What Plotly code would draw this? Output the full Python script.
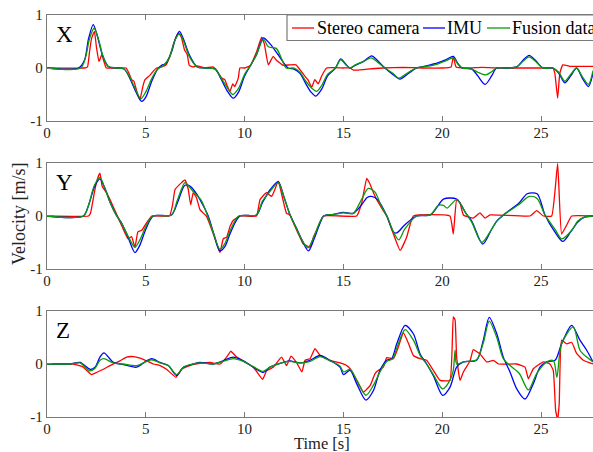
import plotly.graph_objects as go

# ---------------- data ----------------
SERIES_NAMES = ["Stereo camera", "IMU", "Fusion data"]
PANEL_LABELS = ["X", "Y", "Z"]
X_TICKS = [0, 5, 10, 15, 20, 25]
Y_TICKS = [-1, 0, 1]
Y_TICK_TEXT = ["-1", "0", "1"]

# X panel
X_STEREO_T = [0, 1.9, 2.05, 2.15, 2.25, 2.4, 2.5, 2.63, 2.77, 2.9, 3.0, 3.5, 4.0, 4.15, 4.28, 4.4, 4.55, 4.7, 4.85, 4.96, 5.2, 5.4, 5.55, 5.8, 6.0, 6.2, 6.4, 6.55, 6.66, 6.8, 6.95, 7.1, 7.2, 7.4, 7.6, 8.0, 8.4, 8.6, 8.84, 9.0, 9.1, 9.26, 9.4, 9.5, 9.68, 9.76, 10.0, 10.3, 10.6, 10.86, 11.0, 11.2, 11.45, 11.6, 11.95, 12.3, 12.6, 13.0, 13.2, 13.4, 13.55, 13.73, 13.9, 14.15, 15.0, 15.33, 15.5, 16.0, 16.2, 17.0, 18.0, 19.0, 20.0, 20.45, 20.56, 20.7, 21.2, 22.0, 23.0, 24.0, 25.0, 25.6, 25.7, 25.84, 25.95, 26.1, 26.5, 27.0, 27.63]
X_STEREO_V = [0, 0, 0.02, 0.3, 0.55, 0.69, 0.4, 0.12, 0.25, 0.1, 0.0, 0.0, 0.0, -0.1, -0.22, -0.25, -0.45, -0.6, -0.35, -0.22, -0.14, -0.05, 0.0, 0.02, 0.05, 0.2, 0.45, 0.6, 0.66, 0.58, 0.35, 0.25, 0.05, 0.02, 0.04, 0.0, 0.02, -0.05, -0.19, -0.22, -0.32, -0.44, -0.3, -0.35, -0.19, 0.0, 0.0, 0.05, 0.3, 0.58, 0.45, 0.06, 0.22, 0.15, 0.05, 0.06, 0.06, -0.13, -0.22, -0.36, -0.22, -0.3, -0.15, 0.0, 0.0, 0.0, -0.04, -0.03, -0.02, 0.0, 0.01, 0.0, 0.0, 0.02, 0.22, 0.02, 0.0, 0.01, 0.0, 0.0, 0.0, 0.0, -0.1, -0.57, -0.1, 0.06, 0.03, 0.03, 0.03]
X_IMU_T = [0, 1.6, 1.9, 2.1, 2.34, 2.55, 2.8, 3.1, 3.5, 3.9, 4.2, 4.5, 4.79, 5.0, 5.3, 5.6, 5.8, 6.0, 6.3, 6.5, 6.7, 6.9, 7.2, 7.6, 8.0, 8.5, 8.8, 9.1, 9.43, 9.7, 10.0, 10.3, 10.6, 10.95, 11.3, 11.7, 12.2, 12.5, 12.8, 13.1, 13.35, 13.6, 13.9, 14.2, 14.6, 14.86, 15.1, 15.33, 15.6, 16.0, 16.43, 16.7, 17.1, 17.5, 17.86, 18.3, 18.7, 19.2, 19.8, 20.2, 20.56, 20.8, 21.0, 21.5, 21.8, 22.17, 22.5, 22.75, 23.3, 23.77, 24.1, 24.4, 24.7, 25.1, 25.6, 25.9, 26.2, 26.5, 26.8, 27.1, 27.4, 27.63]
X_IMU_V = [0, 0, 0.15, 0.55, 0.82, 0.6, 0.25, 0.03, 0, -0.02, -0.2, -0.45, -0.63, -0.55, -0.25, -0.02, 0.05, 0.08, 0.3, 0.55, 0.69, 0.55, 0.25, 0.02, 0, -0.02, -0.2, -0.42, -0.57, -0.45, -0.15, 0.05, 0.25, 0.57, 0.45, 0.25, 0.0, -0.02, -0.1, -0.3, -0.45, -0.53, -0.4, -0.15, 0.0, 0.17, 0.08, 0.0, 0.05, 0.12, 0.23, 0.15, 0.0, -0.12, -0.21, -0.1, 0.0, 0.04, 0.1, 0.16, 0.22, 0.08, 0.0, -0.02, -0.15, -0.31, -0.15, 0.0, 0.0, 0.02, 0.15, 0.24, 0.15, 0.0, 0.0, -0.1, -0.28, -0.15, 0.0, -0.2, -0.35, -0.1]
X_FUSION_T = [0, 1.7, 1.95, 2.15, 2.38, 2.6, 2.85, 3.1, 3.5, 3.9, 4.2, 4.5, 4.75, 5.0, 5.3, 5.6, 5.9, 6.2, 6.45, 6.7, 6.9, 7.2, 7.6, 8.0, 8.5, 8.8, 9.1, 9.4, 9.7, 10.0, 10.3, 10.6, 10.95, 11.2, 11.6, 11.9, 12.1, 12.5, 12.8, 13.1, 13.4, 13.65, 13.9, 14.2, 14.6, 14.86, 15.1, 15.33, 15.6, 16.0, 16.4, 16.7, 17.1, 17.5, 17.8, 18.3, 18.7, 19.2, 19.8, 20.2, 20.56, 20.8, 21.0, 21.5, 21.8, 22.2, 22.5, 22.75, 23.3, 23.77, 24.1, 24.4, 24.7, 25.1, 25.6, 25.9, 26.2, 26.5, 26.8, 27.1, 27.4, 27.63]
X_FUSION_V = [0, 0, 0.2, 0.55, 0.75, 0.55, 0.2, 0.03, 0.0, -0.02, -0.18, -0.42, -0.58, -0.45, -0.2, -0.02, 0.05, 0.2, 0.5, 0.65, 0.52, 0.22, 0.02, 0, -0.02, -0.18, -0.36, -0.5, -0.38, -0.12, 0.05, 0.25, 0.55, 0.4, 0.37, 0.15, 0.0, 0.0, -0.08, -0.25, -0.38, -0.44, -0.33, -0.12, 0.0, 0.16, 0.07, 0.0, 0.06, 0.12, 0.19, 0.12, 0.0, -0.1, -0.19, -0.08, 0.0, 0.03, 0.08, 0.14, 0.19, 0.07, 0.0, -0.02, -0.08, -0.13, -0.07, 0.0, 0.0, 0.02, 0.13, 0.21, 0.13, 0.0, 0.0, -0.08, -0.25, -0.12, 0.0, -0.17, -0.31, -0.05]

# Y panel
Y_STEREO_T = [0, 2.1, 2.2, 2.4, 2.55, 2.68, 2.8, 3.0, 3.2, 3.5, 3.8, 4.1, 4.28, 4.45, 4.6, 4.8, 5.0, 5.3, 6.2, 6.35, 6.48, 6.81, 6.98, 7.15, 7.27, 7.4, 7.57, 7.74, 8.08, 8.42, 8.75, 8.92, 9.09, 9.26, 9.43, 9.76, 10.6, 10.78, 11.11, 11.37, 11.53, 11.7, 12.12, 12.3, 12.55, 12.8, 12.97, 13.14, 13.31, 13.48, 13.65, 13.99, 15.67, 15.93, 16.18, 16.35, 16.52, 16.77, 17.19, 17.53, 17.87, 18.2, 18.54, 20.39, 20.56, 20.73, 20.9, 21.07, 21.57, 21.91, 22.17, 22.42, 24.44, 24.78, 25.12, 25.54, 25.84, 26.04, 26.3, 26.55, 27.63]
Y_STEREO_V = [0, 0, 0.05, 0.45, 0.7, 0.81, 0.55, 0.45, 0.3, 0.05, -0.2, -0.43, -0.39, -0.59, -0.3, -0.27, -0.15, 0.0, 0.0, 0.2, 0.5, 0.63, 0.68, 0.5, 0.21, 0.44, 0.34, 0.12, -0.01, -0.34, -0.69, -0.43, -0.4, -0.2, -0.08, 0.0, 0.0, 0.31, 0.44, 0.37, 0.5, 0.66, 0.05, 0.02, -0.2, -0.4, -0.53, -0.56, -0.59, -0.4, -0.27, 0.0, 0.0, 0.25, 0.71, 0.6, 0.44, 0.25, 0.0, -0.34, -0.65, -0.4, 0.0, 0.0, -0.34, 0.31, 0.25, 0.02, -0.04, 0.06, -0.04, 0.02, 0.0, 0.1, 0.0, 0.0, 0.99, -0.34, -0.17, 0.0, 0.0]
Y_IMU_T = [0, 1.84, 2.1, 2.4, 2.68, 2.9, 3.2, 3.5, 3.8, 4.1, 4.45, 4.7, 5.0, 5.38, 6.3, 6.6, 6.98, 7.25, 7.6, 7.9, 8.16, 8.45, 8.75, 9.0, 9.3, 9.76, 10.6, 10.9, 11.3, 11.7, 12.0, 12.3, 12.64, 12.9, 13.23, 13.5, 13.8, 14.0, 14.5, 15.0, 15.5, 15.9, 16.2, 16.43, 16.75, 17.2, 17.53, 17.7, 18.1, 18.7, 19.4, 19.8, 20.06, 20.73, 21.2, 21.5, 22.05, 22.5, 22.75, 23.1, 23.9, 24.3, 24.8, 25.2, 25.7, 26.1, 26.5, 26.85, 27.2, 27.63]
Y_IMU_V = [0, 0, 0.2, 0.55, 0.7, 0.55, 0.25, 0.02, -0.15, -0.4, -0.69, -0.55, -0.25, 0.0, 0.02, 0.25, 0.58, 0.56, 0.4, 0.2, 0.0, -0.35, -0.66, -0.58, -0.3, 0.0, 0.02, 0.25, 0.5, 0.65, 0.35, 0.02, -0.24, -0.45, -0.66, -0.45, -0.15, 0.0, 0.03, 0.07, 0.05, 0.2, 0.35, 0.37, 0.3, 0.0, -0.3, -0.32, -0.17, 0.0, 0.02, 0.2, 0.32, 0.32, 0.05, -0.1, -0.53, -0.25, -0.1, 0.02, 0.25, 0.42, 0.42, 0.02, -0.3, -0.48, -0.3, -0.12, -0.02, 0.0]
Y_FUSION_T = [0, 1.84, 2.1, 2.4, 2.68, 2.9, 3.2, 3.5, 3.8, 4.1, 4.45, 4.7, 5.0, 5.35, 6.3, 6.6, 6.98, 7.2, 7.45, 7.8, 8.1, 8.45, 8.75, 9.0, 9.3, 9.7, 10.6, 10.9, 11.3, 11.7, 12.0, 12.3, 12.64, 12.9, 13.2, 13.5, 13.8, 14.0, 14.5, 15.0, 15.5, 15.9, 16.26, 16.6, 16.9, 17.2, 17.53, 17.8, 18.1, 18.7, 19.4, 19.8, 20.06, 20.25, 20.73, 21.2, 21.5, 22.0, 22.5, 22.75, 23.1, 23.9, 24.4, 24.8, 25.2, 25.7, 26.05, 26.6, 26.85, 27.2, 27.63]
Y_FUSION_V = [0, 0, 0.2, 0.58, 0.73, 0.55, 0.25, 0.02, -0.15, -0.38, -0.59, -0.45, -0.2, 0.0, 0.02, 0.3, 0.63, 0.55, 0.44, 0.3, 0.03, -0.35, -0.63, -0.52, -0.25, 0.0, 0.02, 0.28, 0.47, 0.63, 0.35, 0.02, -0.25, -0.45, -0.6, -0.4, -0.12, 0.0, 0.03, 0.06, 0.05, 0.3, 0.52, 0.45, 0.2, 0.0, -0.3, -0.45, -0.25, 0.0, 0.02, 0.2, 0.2, 0.15, 0.31, 0.05, -0.12, -0.5, -0.25, -0.1, 0.02, 0.22, 0.37, 0.33, 0.02, -0.25, -0.43, -0.25, -0.1, -0.02, 0.0]

# Z panel
Z_STEREO_T = [0, 1.3, 1.8, 2.26, 2.5, 2.85, 3.19, 3.69, 4.03, 4.37, 4.71, 5.04, 5.38, 5.72, 6.05, 6.53, 6.81, 7.23, 7.74, 8.25, 8.76, 9.09, 9.3, 9.6, 9.93, 10.44, 10.91, 11.11, 11.45, 11.87, 12.12, 12.35, 12.64, 12.9, 13.06, 13.31, 13.56, 13.82, 14.32, 14.83, 15.17, 15.34, 15.67, 16.01, 16.35, 16.6, 16.77, 17.02, 17.19, 17.53, 17.78, 18.03, 18.29, 18.54, 18.88, 19.21, 19.55, 19.89, 20.39, 20.56, 20.65, 20.73, 20.9, 21.07, 21.41, 21.57, 21.91, 22.25, 22.59, 22.84, 23.77, 24.19, 24.36, 24.61, 25.12, 25.45, 25.62, 25.74, 25.84, 25.92, 26.04, 26.3, 26.55, 26.8, 27.14, 27.63]
Z_STEREO_V = [0, 0.0, -0.05, -0.2, -0.16, -0.1, -0.03, 0.06, 0.13, 0.14, 0.11, 0.06, 0.0, -0.03, -0.1, -0.25, -0.1, -0.03, 0.01, 0.03, 0.0, 0.13, 0.24, 0.13, 0.06, -0.06, -0.29, -0.13, -0.06, 0.13, -0.03, 0.15, 0.02, -0.15, 0.07, 0.1, 0.29, 0.16, 0.07, 0.02, -0.03, -0.09, -0.31, -0.53, -0.41, -0.18, -0.12, -0.06, 0.12, 0.1, 0.32, 0.59, 0.39, 0.16, 0.1, 0.07, -0.12, -0.31, -0.31, 0.89, 0.83, 0.13, -0.31, -0.15, 0.06, 0.27, 0.19, 0.04, 0.07, 0.0, 0.0, -0.06, -0.28, -0.09, 0.04, 0.0, -0.12, -0.88, -1.05, -0.75, 0.45, 0.38, 0.41, 0.2, 0.07, 0.0]
Z_IMU_T = [0, 1.16, 1.67, 2.18, 2.43, 2.68, 2.88, 3.36, 3.86, 4.54, 5.04, 5.3, 5.72, 6.14, 6.56, 6.9, 7.4, 7.74, 8.42, 8.92, 9.43, 9.93, 10.44, 10.94, 11.28, 11.96, 12.29, 12.8, 13.31, 13.82, 14.32, 14.83, 15.0, 15.34, 15.67, 16.14, 16.52, 16.85, 17.19, 17.44, 17.7, 18.12, 18.54, 18.88, 19.21, 19.55, 20.02, 20.39, 20.73, 21.07, 21.74, 22.08, 22.38, 22.76, 23.09, 23.43, 23.77, 24.19, 24.61, 24.95, 25.29, 25.71, 26.04, 26.55, 26.97, 27.31, 27.63]
Z_IMU_V = [0, 0, 0.03, -0.1, -0.06, 0.13, 0.21, 0.03, -0.01, -0.06, 0.06, 0.1, 0.03, -0.03, -0.22, -0.06, 0.0, 0.03, 0.0, 0.06, 0.13, 0.06, -0.06, -0.16, -0.06, 0.03, 0.06, 0.02, 0.07, 0.16, 0.07, -0.06, -0.2, -0.12, -0.37, -0.68, -0.5, -0.12, 0.07, 0.1, 0.38, 0.73, 0.57, 0.19, 0.0, -0.22, -0.59, -0.44, -0.06, 0.04, 0.07, 0.45, 0.88, 0.57, 0.13, -0.15, -0.47, -0.66, -0.37, -0.06, 0.04, 0.07, 0.38, 0.73, 0.45, 0.26, 0.04]
Z_FUSION_T = [0, 1.16, 1.67, 2.18, 2.43, 2.68, 2.88, 3.36, 3.86, 4.54, 5.04, 5.3, 5.72, 6.14, 6.56, 6.9, 7.4, 7.74, 8.42, 8.92, 9.43, 9.93, 10.44, 10.94, 11.28, 11.96, 12.29, 12.8, 13.31, 13.82, 14.32, 14.83, 15.0, 15.34, 15.67, 16.14, 16.52, 16.85, 17.2, 17.5, 17.7, 18.12, 18.54, 18.9, 19.21, 19.55, 20.02, 20.39, 20.56, 20.65, 20.73, 21.07, 21.74, 22.08, 22.38, 22.76, 23.09, 23.43, 23.9, 24.36, 24.78, 25.29, 25.63, 25.8, 26.04, 26.63, 26.97, 27.31, 27.63]
Z_FUSION_V = [0, 0, 0.02, -0.13, -0.08, 0.07, 0.1, 0.02, 0.0, -0.03, 0.05, 0.08, 0.02, -0.03, -0.2, -0.06, 0.0, 0.02, 0.0, 0.05, 0.1, 0.05, -0.05, -0.14, -0.06, 0.03, 0.05, 0.02, 0.05, 0.14, 0.06, -0.04, -0.15, -0.1, -0.3, -0.59, -0.4, -0.15, 0.05, 0.1, 0.3, 0.65, 0.45, 0.15, 0.0, -0.2, -0.47, -0.31, -0.12, 0.26, 0.0, 0.04, 0.08, 0.4, 0.81, 0.5, 0.1, -0.03, -0.18, -0.49, -0.18, 0.04, 0.06, -0.25, 0.38, 0.7, 0.26, 0.13, 0.04]

PANELS = [
    [(X_STEREO_T, X_STEREO_V), (X_IMU_T, X_IMU_V), (X_FUSION_T, X_FUSION_V)],
    [(Y_STEREO_T, Y_STEREO_V), (Y_IMU_T, Y_IMU_V), (Y_FUSION_T, Y_FUSION_V)],
    [(Z_STEREO_T, Z_STEREO_V), (Z_IMU_T, Z_IMU_V), (Z_FUSION_T, Z_FUSION_V)],
]

# ---------------- style ----------------
COLORS = ["#ff0000", "#0000ff", "#0a9a0a"]
SMOOTHING = [0.35, 0.8, 0.8]
FONT = "Liberation Serif, Times New Roman, serif"
AXIS_COLOR = "#7a7a7a"
TEXT_COLOR = "#222222"
X_RANGE = [0, 27.63]
DOMAINS = [[0.7363, 1.0], [0.3682, 0.6318], [0.0, 0.2637]]

fig = go.Figure()
for p, series in enumerate(PANELS):
    xa = "x" if p == 0 else f"x{p+1}"
    ya = "y" if p == 0 else f"y{p+1}"
    for s, (t, v) in enumerate(series):
        fig.add_trace(go.Scatter(
            x=t, y=v, mode="lines", name=SERIES_NAMES[s],
            line=dict(color=COLORS[s], width=1.3, shape="spline", smoothing=SMOOTHING[s]),
            xaxis=xa, yaxis=ya, showlegend=False, hoverinfo="skip"))

layout = dict(
    width=593, height=452,
    margin=dict(l=47, r=0, t=15, b=35),
    paper_bgcolor="white", plot_bgcolor="white",
    font=dict(family=FONT, size=15, color=TEXT_COLOR),
    showlegend=False,
)
for p in range(3):
    xk = "xaxis" if p == 0 else f"xaxis{p+1}"
    yk = "yaxis" if p == 0 else f"yaxis{p+1}"
    ya = "y" if p == 0 else f"y{p+1}"
    xa = "x" if p == 0 else f"x{p+1}"
    layout[xk] = dict(
        domain=[0, 1], anchor=ya, range=X_RANGE,
        tickvals=X_TICKS, ticktext=[str(v) for v in X_TICKS],
        ticks="inside", ticklen=5, tickcolor=AXIS_COLOR, tickwidth=1,
        ticklabelstandoff=-2,
        showline=True, linecolor=AXIS_COLOR, linewidth=1.3, mirror="allticks",
        showgrid=False, zeroline=False,
        tickfont=dict(family=FONT, size=15, color=TEXT_COLOR),
    )
    layout[yk] = dict(
        domain=DOMAINS[p], anchor=xa, range=[-1, 1],
        tickvals=Y_TICKS, ticktext=Y_TICK_TEXT,
        ticks="inside", ticklen=5, tickcolor=AXIS_COLOR, tickwidth=1,
        showline=True, linecolor=AXIS_COLOR, linewidth=1.3,
        showgrid=False, zeroline=False,
        tickfont=dict(family=FONT, size=15, color=TEXT_COLOR),
    )
fig.update_layout(**layout)

annotations = []
for p, lab in enumerate(PANEL_LABELS):
    xa = "x" if p == 0 else f"x{p+1}"
    ya = "y" if p == 0 else f"y{p+1}"
    annotations.append(dict(
        text=lab, x=0.012, y=0.82, xref=f"{xa} domain", yref=f"{ya} domain",
        xanchor="left", yanchor="middle", showarrow=False,
        font=dict(family=FONT, size=23, color="black")))
annotations.append(dict(
    text="Velocity [m/s]", x=-0.0513, y=0.505, xref="paper", yref="paper",
    xanchor="center", yanchor="middle", textangle=-90, showarrow=False,
    font=dict(family=FONT, size=18, color=TEXT_COLOR)))
annotations.append(dict(
    text="Time [s]", x=0.5037, y=-0.066, xref="paper", yref="paper",
    xanchor="center", yanchor="middle", showarrow=False, borderpad=0,
    font=dict(family=FONT, size=16.5, color=TEXT_COLOR)))

# manual legend (box runs past the right edge of the page, like the reference)
plot_w = 546.0
def px_x(px):
    return (px - 47) / plot_w
def px_y(py):
    return (417 - py) / 402.0

shapes = [dict(type="rect", xref="paper", yref="paper",
               x0=px_x(287), x1=px_x(620), y0=px_y(40.5), y1=px_y(15),
               line=dict(color=AXIS_COLOR, width=1.2), fillcolor="white", layer="above")]
legend_line_x = [(292, 314), (423, 445), (487, 510)]
legend_text_x = [317, 447, 512]
for s in range(3):
    x0, x1 = legend_line_x[s]
    shapes.append(dict(type="line", xref="paper", yref="paper",
                       x0=px_x(x0), x1=px_x(x1), y0=px_y(28), y1=px_y(28),
                       line=dict(color=COLORS[s], width=1.3), layer="above"))
    annotations.append(dict(
        text=SERIES_NAMES[s], x=px_x(legend_text_x[s]) - 0.004, y=px_y(28),
        xref="paper", yref="paper", xanchor="left", yanchor="middle",
        showarrow=False, font=dict(family=FONT, size=18, color="black")))

fig.update_layout(annotations=annotations, shapes=shapes)
fig.write_html("out.html")
